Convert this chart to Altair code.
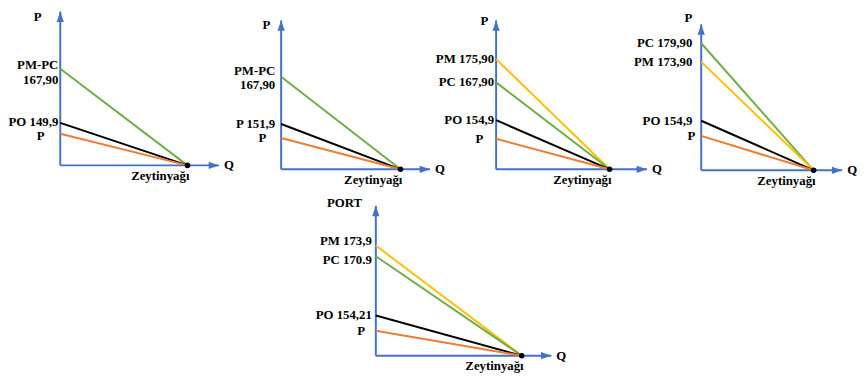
import altair as alt
import pandas as pd

# ---------------- data ----------------
PANEL_TOP_LABELS = ["P", "P", "P", "P", "PORT"]
Q_LABEL = "Q"
PRODUCT_LABEL = "Zeytinyağı"
Q_END = 1.0  # quantity where all price lines meet the Q axis

P1_SERIES = ["PM-PC", "PO", "P"]
P1_LABELS = ["PM-PC\n167,90", "PO 149,9", "P"]
P1_PRICES = [167.90, 149.9, 146.3]

P2_SERIES = ["PM-PC", "PO", "P"]
P2_LABELS = ["PM-PC\n167,90", "P 151,9", "P"]
P2_PRICES = [167.90, 151.9, 147.2]

P3_SERIES = ["PM", "PC", "PO", "P"]
P3_LABELS = ["PM 175,90", "PC 167,90", "PO 154,9", "P"]
P3_PRICES = [175.90, 167.90, 154.9, 148.5]

P4_SERIES = ["PC", "PM", "PO", "P"]
P4_LABELS = ["PC 179,90", "PM 173,90", "PO 154,9", "P"]
P4_PRICES = [179.90, 173.90, 154.9, 150.0]

P5_SERIES = ["PM", "PC", "PO", "P"]
P5_LABELS = ["PM 173,9", "PC 170.9", "PO 154,21", "P"]
P5_PRICES = [173.9, 170.9, 154.21, 149.9]

# ---------------- styling ----------------
FONT = "Liberation Serif, Times New Roman, Times, serif"
AXIS_BLUE = "#4472C4"
SERIES_DOMAIN = ["PM", "PC", "PM-PC", "PO", "P"]
SERIES_RANGE = ["#FFC000", "#70AD47", "#70AD47", "#000000", "#ED7D31"]
ARROW_UP = "M0,0L-0.7,2L0.7,2Z"
ARROW_RIGHT = "M0,0L-2,-0.7L-2,0.7Z"

TEXT = dict(font=FONT, fontWeight="bold", fontSize=13, color="black", baseline="middle")


def panel(series, labels, prices, top_label, y_dom, y_rng, x_dom, x_rng, w, h,
          label_dx, p_dx, top_off, nudge):
    lines = pd.DataFrame({"series": series, "label": labels, "price": prices})
    lines["q0"] = 0.0
    lines["q1"] = Q_END
    lines["base"] = y_dom[0]
    frame = pd.DataFrame({"q0": [0.0], "qmax": [x_dom[1]], "qend": [Q_END],
                          "pmin": [y_dom[0]], "pmax": [y_dom[1]],
                          "top": [top_label], "q": [Q_LABEL], "prod": [PRODUCT_LABEL]})

    def X(f):
        return alt.X(f, type="quantitative", scale=alt.Scale(domain=x_dom, range=x_rng), axis=None)

    def Y(f):
        return alt.Y(f, type="quantitative", scale=alt.Scale(domain=y_dom, range=y_rng), axis=None)

    color = alt.Color("series:N", scale=alt.Scale(domain=SERIES_DOMAIN, range=SERIES_RANGE), legend=None)

    layers = [
        alt.Chart(frame).mark_rule(color=AXIS_BLUE, strokeWidth=2).encode(
            x=X("q0"), y=Y("pmin"), y2="pmax"),
        alt.Chart(frame).mark_rule(color=AXIS_BLUE, strokeWidth=2).encode(
            x=X("q0"), x2="qmax", y=Y("pmin")),
        alt.Chart(lines).mark_rule(strokeWidth=2).encode(
            x=X("q0"), x2="q1", y=Y("price"), y2="base", color=color),
        alt.Chart(frame).mark_point(shape=ARROW_UP, filled=True, color=AXIS_BLUE, size=110,
                                    opacity=1, strokeWidth=0).encode(x=X("q0"), y=Y("pmax")),
        alt.Chart(frame).mark_point(shape=ARROW_RIGHT, filled=True, color=AXIS_BLUE, size=110,
                                    opacity=1, strokeWidth=0).encode(x=X("qmax"), y=Y("pmin")),
        alt.Chart(frame).mark_circle(size=32, color="black", opacity=1).encode(
            x=X("qend"), y=Y("pmin")),
    ]
    for s in series:
        layers.append(
            alt.Chart(lines).transform_filter(alt.datum.series == s).mark_text(
                align="right", dx=p_dx if s == "P" else label_dx, dy=nudge.get(s, 0),
                lineBreak="\n", **TEXT).encode(x=X("q0"), y=Y("price"), text="label:N"))
    layers += [
        alt.Chart(frame).mark_text(align="right", dx=top_off[0], dy=top_off[1], **TEXT).encode(
            x=X("q0"), y=Y("pmax"), text="top:N"),
        alt.Chart(frame).mark_text(align="left", dx=5, **TEXT).encode(
            x=X("qmax"), y=Y("pmin"), text="q:N"),
        alt.Chart(frame).mark_text(align="right", dx=2, dy=11, **TEXT).encode(
            x=X("qend"), y=Y("pmin"), text="prod:N"),
    ]
    return alt.layer(*layers).properties(width=w, height=h)


p1 = panel(P1_SERIES, P1_LABELS, P1_PRICES, PANEL_TOP_LABELS[0],
           [135.8, 186.9], [156, 0], [0, 1.248], [0, 161], 224, 162,
           -2, -16, (-19, 6), {"PM-PC": -4, "PO": -1, "P": 2})
p2 = panel(P2_SERIES, P2_LABELS, P2_PRICES, PANEL_TOP_LABELS[1],
           [136.6, 186.9], [160, 9], [0, 1.248], [0, 151], 218, 162,
           -6, -15, (-11, 5), {"PM-PC": -6})
p3 = panel(P3_SERIES, P3_LABELS, P3_PRICES, PANEL_TOP_LABELS[2],
           [138.0, 189.2], [160, 9], [0, 1.33], [0, 153], 208, 162,
           -2, -13, (-8, 1), {})
p4 = panel(P4_SERIES, P4_LABELS, P4_PRICES, PANEL_TOP_LABELS[3],
           [138.9, 186.0], [161, 13], [0, 1.254], [0, 143], 143, 162,
           -9, -6, (-9, -6), {})
p5 = panel(P5_SERIES, P5_LABELS, P5_PRICES, PANEL_TOP_LABELS[4],
           [142.9, 185.1], [152, 0], [0, 1.203], [320, 498], 224, 152,
           -4, -11, (-14, -3), {"PM": -5, "PC": 4})

chart = alt.concat(p1, p2, p3, p4, p5, columns=4,
                   spacing={"row": 35, "column": 0}, bounds="flush").resolve_scale(
    x="independent", y="independent"
).properties(padding=0, background="white").configure_view(stroke=None)

chart.save("out.html", embed_options={"renderer": "svg", "actions": False})
